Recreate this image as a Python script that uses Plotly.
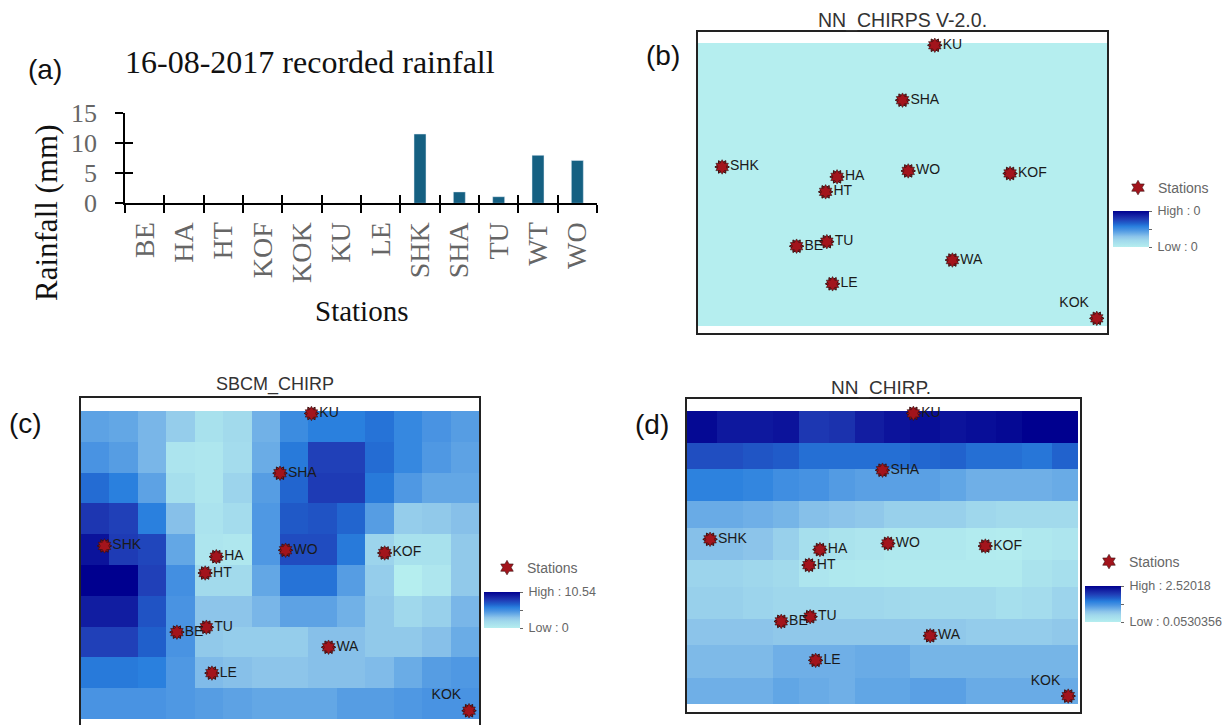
import plotly.graph_objects as go

W, H = 1222, 725
SANS = "Liberation Sans"
SERIF = "Liberation Serif"

# ---- data ----
stations_bar = ["BE", "HA", "HT", "KOF", "KOK", "KU", "LE", "SHK", "SHA", "TU", "WT", "WO"]
rainfall_mm = [0, 0, 0, 0, 0, 0, 0, 11.55, 1.9, 1.1, 8.0, 7.15]

station_names = ["KU", "SHA", "SHK", "HA", "HT", "WO", "KOF", "BE", "TU", "WA", "LE", "KOK"]
station_x = [.579, .500, .059, .340, .312, .514, .763, .241, .315, .622, .329, .975]
station_y = [.008, .202, .438, .473, .526, .452, .461, .718, .702, .767, .851, .973]
label_pos = ["middle right"] * 11 + ["top left"]

grid_b = [[0]]
edges_bx = [0, 1]
edges_by = [0, 1]

grid_c = [
    [4.4, 4.2, 3.6, 2.6, 1.2, 1.8, 3.8, 5.4, 6.0, 6.0, 6.4, 5.6, 5.0, 4.6],
    [5.0, 4.6, 3.6, 0.9, 0.7, 1.6, 4.0, 6.2, 8.0, 8.0, 6.6, 5.6, 4.8, 4.4],
    [6.6, 6.0, 4.4, 1.4, 0.7, 2.2, 4.6, 6.8, 8.2, 8.2, 6.2, 4.8, 4.2, 4.2],
    [8.4, 8.0, 6.0, 3.2, 1.0, 1.6, 4.8, 7.2, 7.4, 6.8, 4.6, 2.6, 2.8, 3.2],
    [9.8, 8.2, 7.8, 4.2, 0.8, 0.6, 4.8, 7.6, 7.6, 6.2, 2.2, 1.2, 1.2, 2.8],
    [10.54, 10.54, 8.0, 5.2, 1.8, 1.8, 4.2, 6.4, 6.4, 4.6, 2.6, 0.0, 0.7, 2.8],
    [9.4, 9.4, 7.4, 5.0, 3.0, 3.0, 3.6, 4.4, 4.4, 3.8, 2.8, 2.0, 2.4, 3.6],
    [8.0, 8.0, 7.0, 5.0, 2.8, 2.6, 2.6, 2.6, 3.2, 3.2, 2.8, 2.8, 3.2, 4.0],
    [6.2, 6.2, 6.0, 4.8, 3.4, 3.2, 3.0, 3.0, 3.2, 3.2, 3.4, 4.0, 4.6, 4.8],
    [5.0, 5.0, 5.0, 4.8, 4.6, 4.4, 4.2, 4.2, 4.2, 4.6, 4.6, 4.8, 5.0, 5.0],
]
edges_cx = [0, .071, .143, .214, .286, .357, .429, .5, .571, .643, .714, .786, .857, .929, 1]
edges_cy = [0, .1, .2, .3, .4, .5, .6, .7, .8, .9, 1]

grid_d = [
    [2.44, 2.30, 2.30, 2.34, 2.01, 2.06, 2.25, 2.34, 2.39, 2.34, 2.39, 2.44, 2.52, 2.52],
    [1.82, 1.82, 1.77, 1.72, 1.58, 1.58, 1.58, 1.58, 1.63, 1.67, 1.58, 1.58, 1.53, 1.67],
    [1.44, 1.44, 1.39, 1.29, 1.24, 1.15, 1.10, 1.10, 1.10, 1.05, .96, .96, .96, 1.00],
    [1.00, 1.00, .96, .91, .81, .77, .72, .62, .62, .62, .53, .48, .48, .48],
    [.81, .81, .77, .62, .38, .29, .24, .19, .19, .19, .12, .10, .19, .24],
    [.57, .57, .53, .48, .24, .19, .17, .14, .14, .14, .14, .14, .29, .38],
    [.62, .62, .57, .53, .53, .53, .53, .50, .48, .48, .48, .38, .43, .57],
    [.77, .77, .77, .72, .72, .72, .72, .72, .72, .72, .67, .67, .67, .72],
    [.86, .86, .86, .96, .96, .96, 1.00, 1.00, .91, .91, .91, .91, .91, .91],
    [.96, .96, .96, 1.05, 1.00, .96, 1.05, 1.05, 1.10, 1.10, 1.00, 1.00, 1.00, 1.00],
]
edges_dx = [0, .077, .143, .219, .286, .362, .429, .505, .571, .648, .714, .790, .857, .934, 1]
edges_dy = [0, .108, .198, .306, .400, .509, .600, .711, .799, .911, 1]

ramp = [
    [0.00, "#b5eeef"], [0.19, "#a0d8ec"], [0.29, "#8cc4ea"], [0.38, "#6aace6"],
    [0.47, "#4a94e2"], [0.57, "#2a80de"], [0.66, "#2060cc"], [0.76, "#2040b8"],
    [0.85, "#1828a8"], [1.00, "#00008f"],
]

# ---- pixel layout helpers ----
def dx(l, r):
    return [l / W, r / W]

def dy(t, b):
    return [1 - b / H, 1 - t / H]

fig = go.Figure()

# ---- panel (a) ----
fig.add_trace(go.Bar(x=stations_bar, y=rainfall_mm, marker=dict(color="#156082", line=dict(width=0)),
                     width=0.305, xaxis="x", yaxis="y", showlegend=False))
fig.add_trace(go.Bar(x=stations_bar, y=rainfall_mm, marker=dict(color="rgba(0,0,0,0)"),
                     width=0.305, xaxis="x5", yaxis="y5", showlegend=False))
ax_common = dict(showgrid=False, zeroline=False, linecolor="#000", linewidth=1.5,
                 ticklen=8, tickwidth=1.5, tickcolor="#000")
ylim = [0, 15]
A_X = dx(125, 597)
A_Y = dy(113.3, 203.3)
fig.update_layout(
    xaxis=dict(domain=A_X, anchor="y", type="category", categoryorder="array",
               categoryarray=stations_bar, ticks="outside", tickson="boundaries", tickangle=-90,
               tickfont=dict(family=SERIF, size=28, color="#666"), ticklabelstandoff=6,
               showline=True, **ax_common),
    yaxis=dict(domain=A_Y, anchor="x", range=ylim, tickvals=[0, 5, 10, 15], ticks="outside",
               tickfont=dict(family=SERIF, size=26, color="#666"), ticklabelstandoff=13,
               showline=True, **ax_common),
    xaxis5=dict(domain=A_X, anchor="y5", overlaying="x", type="category", categoryorder="array",
                categoryarray=stations_bar, ticks="inside", tickson="boundaries", showticklabels=False,
                showline=False, **ax_common),
    yaxis5=dict(domain=A_Y, anchor="x5", overlaying="y", range=ylim, tickvals=[0, 5, 10, 15],
                ticks="inside", showticklabels=False, showline=False, **ax_common),
)

# ---- map panels ----
panels = [
    dict(n=2, z=grid_b, ex=edges_bx, ey=edges_by, zmin=0, zmax=1, hi="High : 0", lo="Low : 0",
         frame=(698, 32, 1107, 333), fill=(698, 43, 1107, 326), bar=(1113, 211), leg=(1118, 188), legend="legend"),
    dict(n=3, z=grid_c, ex=edges_cx, ey=edges_cy, zmin=0, zmax=10.54, hi="High : 10.54", lo="Low : 0",
         frame=(81, 398, 479, 725), fill=(81, 411, 479, 719), bar=(484, 592), leg=(487, 568), legend="legend2"),
    dict(n=4, z=grid_d, ex=edges_dx, ey=edges_dy, zmin=0.0530356, zmax=2.52018, hi="High : 2.52018", lo="Low : 0.0530356",
         frame=(687, 399, 1080, 712), fill=(687, 411, 1078, 704), bar=(1085, 586), leg=(1089, 562), legend="legend3"),
]
layout = {}
NB = "\u00a0"
for p in panels:
    n = p["n"]
    fl, ft, fr, fb = p["frame"]
    al, at, ar, ab = p["fill"]
    fig.add_trace(go.Heatmap(
        z=p["z"], x=p["ex"], y=p["ey"], zmin=p["zmin"], zmax=p["zmax"], colorscale=ramp,
        xaxis=f"x{n}", yaxis=f"y{n}", showlegend=False,
        colorbar=dict(
            x=p["bar"][0] / W, xanchor="left", xpad=0, y=1 - p["bar"][1] / H, yanchor="top", ypad=0,
            thickness=36, thicknessmode="pixels", len=36, lenmode="pixels", outlinewidth=0,
            tickmode="array", tickvals=[p["zmin"], (p["zmin"] + p["zmax"]) / 2, p["zmax"]],
            ticktext=[NB + p["lo"], "", NB + p["hi"]], ticks="outside", ticklen=3, tickcolor="#666",
            tickfont=dict(family=SANS, size=12.5, color="#666"),
        ),
    ))
    # a second, turned star under the labelled one gives the 12-spoke station symbol
    fig.add_trace(go.Scatter(
        x=station_x, y=station_y, mode="markers", hoverinfo="skip", showlegend=False,
        marker=dict(symbol="hexagram", size=11, angle=30, color="#a3141c", line=dict(color="#3a1010", width=1)),
        cliponaxis=False, xaxis=f"x{n}", yaxis=f"y{n}",
    ))
    fig.add_trace(go.Scatter(
        x=station_x, y=station_y, text=station_names, mode="markers+text", textposition=label_pos,
        textfont=dict(family=SANS, size=14, color="#1a1a1a"), name="Stations",
        marker=dict(symbol="hexagram", size=11, color="#a3141c", line=dict(color="#3a1010", width=0.6)),
        cliponaxis=False, xaxis=f"x{n}", yaxis=f"y{n}", legend=p["legend"], showlegend=True,
    ))
    sx = 1.0 / (ar - al)
    sy = 1.0 / (ab - at)
    layout[f"xaxis{n}"] = dict(domain=dx(fl, fr), anchor=f"y{n}", side="top",
                               range=[(fl - al) * sx, (fr - al) * sx], showgrid=False, zeroline=False,
                               showticklabels=False, ticks="", showline=True, linecolor="#222", linewidth=2,
                               mirror=(n != 3))
    layout[f"yaxis{n}"] = dict(domain=dy(ft, fb), anchor=f"x{n}", range=[(fb - at) * sy, (ft - at) * sy],
                               showgrid=False, zeroline=False, showticklabels=False, ticks="",
                               showline=True, linecolor="#222", linewidth=2, mirror=True)
    layout[p["legend"]] = dict(x=p["leg"][0] / W, xanchor="left", y=1 - p["leg"][1] / H, yanchor="middle",
                               bgcolor="rgba(0,0,0,0)", font=dict(family=SANS, size=14, color="#666"),
                               itemclick=False)
fig.update_layout(**layout)

def note(text, px, py, size, family=SANS, color="#111", angle=0):
    return dict(text=text, x=px / W, y=1 - py / H, xref="paper", yref="paper", showarrow=False,
                xanchor="center", yanchor="middle", textangle=angle,
                font=dict(family=family, size=size, color=color))

fig.update_layout(
    width=W, height=H, margin=dict(l=0, r=0, t=0, b=0, autoexpand=False),
    paper_bgcolor="white", plot_bgcolor="rgba(0,0,0,0)", barmode="overlay",
    annotations=[
        note("(a)", 45, 69, 28),
        note("(b)", 663, 55, 28),
        note("(c)", 25, 423, 28),
        note("(d)", 652, 424, 28),
        note("16-08-2017 recorded rainfall", 310, 62, 32, SERIF),
        note("Rainfall (mm)", 46, 213, 31, SERIF, angle=-90),
        note("Stations", 361, 311, 29, SERIF),
        note("NN_CHIRPS V-2.0.", 902, 20, 19.5, SANS, "#333"),
        note("SBCM_CHIRP", 275, 385, 18, SANS, "#333"),
        note("NN_CHIRP.", 881, 388, 19, SANS, "#333"),
    ],
)
fig.write_html("out.html", post_script="document.body.style.margin='0';",
               config={"displayModeBar": False})
